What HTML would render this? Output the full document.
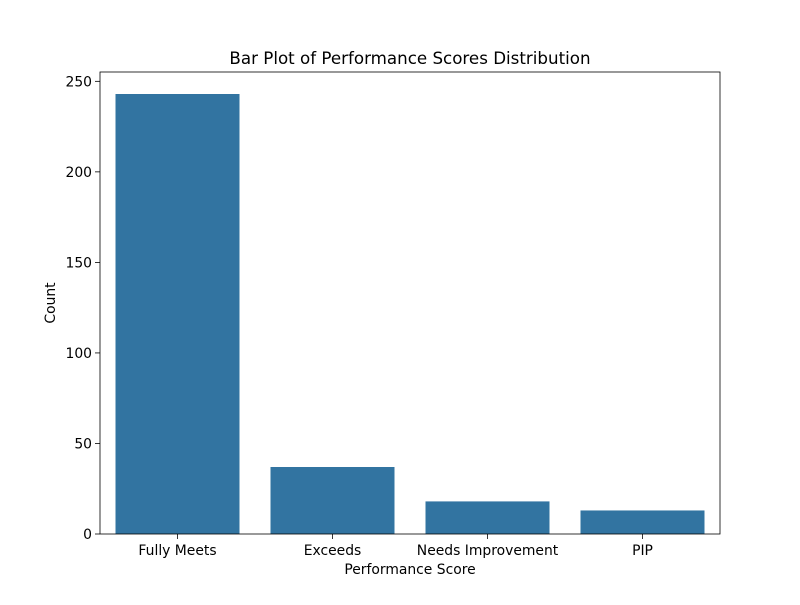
<!DOCTYPE html>
<html><head><meta charset="utf-8"><style>
body{margin:0;background:#fff;}
svg text{font-family:"DejaVu Sans","Liberation Sans",sans-serif;fill:#000;}
</style></head><body>
<svg id="chart" width="800" height="600" xmlns="http://www.w3.org/2000/svg">
<rect width="800" height="600" fill="#fff"/>
<text x="410" y="64" font-size="16.7" text-anchor="middle">Bar Plot of Performance Scores Distribution</text>
<g id="bars"></g>
<g id="axes"></g>
<text x="410" y="574" font-size="13.9" text-anchor="middle">Performance Score</text>
<text transform="translate(55,303) rotate(-90)" font-size="13.9" text-anchor="middle">Count</text>
</svg>
<script>
const categories = ["Fully Meets","Exceeds","Needs Improvement","PIP"];
const counts = [243,37,18,13];
const yTicks = [0,50,100,150,200,250];
const L=100,R=720,T=72,B=534,yMax=255.15;
const ns="http://www.w3.org/2000/svg";
const x=i=>L+(i+0.5)*(R-L)/categories.length;
const y=v=>B-v*(B-T)/yMax;
const bw=0.8*(R-L)/categories.length;
const bars=document.getElementById('bars'),axes=document.getElementById('axes');
function mk(tag,attrs,parent){const e=document.createElementNS(ns,tag);for(const k in attrs)e.setAttribute(k,attrs[k]);parent.appendChild(e);return e;}
counts.forEach((v,i)=>{
  const r=mk('rect',{x:x(i)-bw/2,y:y(v),width:bw,height:B-y(v),fill:'#3274a1'},bars);
  
  
  mk('line',{x1:x(i),x2:x(i),y1:B,y2:B+5,stroke:'#000','stroke-width':0.8},axes);
  const t=mk('text',{x:x(i),y:B+21,'font-size':13.9,'text-anchor':'middle'},axes);
  t.textContent=categories[i];
  
  
});
yTicks.forEach(v=>{
  mk('line',{x1:L-5,x2:L,y1:y(v),y2:y(v),stroke:'#000','stroke-width':0.8},axes);
  const t=mk('text',{x:L-8,y:y(v)+5,'font-size':13.9,'text-anchor':'end'},axes);
  t.textContent=v;
  
  
});
const f=mk('rect',{x:L,y:T,width:R-L,height:B-T,fill:'none',stroke:'#000','stroke-width':0.8},axes);


</script>
</body></html>
